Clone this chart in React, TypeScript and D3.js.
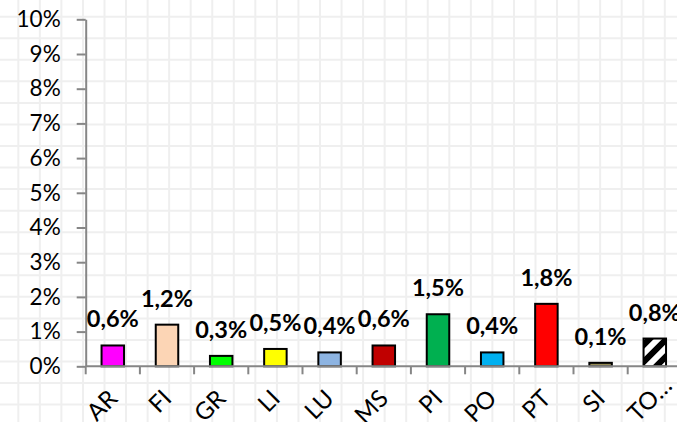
import React, { useEffect, useRef } from "react"
import * as d3 from "d3"

// Provinces (last one is truncated in the original chart)
const categories = ["AR", "FI", "GR", "LI", "LU", "MS", "PI", "PO", "PT", "SI", "TO…"]
const values = [0.006, 0.012, 0.003, 0.005, 0.004, 0.006, 0.015, 0.004, 0.018, 0.001, 0.008]
const barColors = [
  "#FF00FF", "#FCD5B5", "#00FF00", "#FFFF00", "#8DB4E2", "#C00000",
  "#00B050", "#00B0F0", "#FF0000", "#948A54", "url(#hatch)"
]
const yTicks = [0, 0.01, 0.02, 0.03, 0.04, 0.05, 0.06, 0.07, 0.08, 0.09, 0.1]

const W = 677
const H = 422
const FONT = "Lato, 'Open Sans', sans-serif"

const itLocale = d3.formatLocale({ decimal: ",", thousands: ".", grouping: [3], currency: ["", "€"] })
const fmtLabel = itLocale.format(".1%")
const fmtTick = itLocale.format(".0%")

const App = () => {
  const svgRef = useRef<SVGSVGElement>(null)

  useEffect(() => {
    if (!svgRef.current) return
    const svg = d3.select(svgRef.current)
    svg.selectAll("*").remove()

    const left = 85.7
    const step = 54.2
    const x = d3.scaleBand<string>()
      .domain(categories)
      .range([left, left + step * categories.length])
      .paddingInner(0.585)
      .paddingOuter(0.2925)
    const y = d3.scaleLinear().domain([0, 0.1]).range([366.3, 19.3])

    // hatch pattern for the last bar
    const defs = svg.append("defs")
    const pat = defs.append("pattern")
      .attr("id", "hatch")
      .attr("patternUnits", "userSpaceOnUse")
      .attr("width", 12)
      .attr("height", 12)
      .attr("patternTransform", "rotate(45)")
    pat.append("rect").attr("width", 12).attr("height", 12).attr("fill", "#fff")
    pat.append("rect").attr("width", 6).attr("height", 12).attr("fill", "#000")

    // spreadsheet cell grid behind the chart
    const grid = svg.append("g").attr("stroke", "#efefef").attr("stroke-width", 2)
    grid.selectAll("line.v")
      .data(d3.range(18.3, W, 21.55))
      .enter().append("line")
      .attr("x1", d => d).attr("x2", d => d)
      .attr("y1", 0).attr("y2", H)
    grid.selectAll("line.h")
      .data(d3.range(16.7, H, 21.55))
      .enter().append("line")
      .attr("y1", d => d).attr("y2", d => d)
      .attr("x1", 0).attr("x2", W)

    // bars
    svg.append("g")
      .selectAll("rect")
      .data(values)
      .enter().append("rect")
      .attr("x", (d, i) => x(categories[i])!)
      .attr("y", d => y(d))
      .attr("width", x.bandwidth())
      .attr("height", d => y(0) - y(d))
      .attr("fill", (d, i) => barColors[i])
      .attr("stroke", "#000")
      .attr("stroke-width", 2)

    // y axis
    const yAxis = svg.append("g")
      .attr("transform", `translate(${left},0)`)
      .call(d3.axisLeft(y).tickValues(yTicks).tickFormat(d => fmtTick(d as number)).tickSize(9).tickSizeOuter(0).tickPadding(16))
    yAxis.select(".domain").attr("stroke", "#868686").attr("stroke-width", 2)
    yAxis.selectAll(".tick line").attr("stroke", "#868686").attr("stroke-width", 2)
    yAxis.selectAll(".tick text")
      .attr("fill", "#000")
      .style("font-family", FONT)
      .style("font-size", "22.5px")

    // x axis: line and ticks at category boundaries
    const xg = svg.append("g")
    const xEnd = left + step * categories.length
    xg.append("line")
      .attr("x1", left).attr("x2", xEnd)
      .attr("y1", y(0)).attr("y2", y(0))
      .attr("stroke", "#868686").attr("stroke-width", 2)
    const gap = (x.step() - x.bandwidth()) / 2
    const bounds = categories.map(c => x(c)! - gap).concat([xEnd])
    xg.selectAll("line.tick")
      .data(bounds)
      .enter().append("line")
      .attr("x1", d => d).attr("x2", d => d)
      .attr("y1", y(0)).attr("y2", y(0) + 8)
      .attr("stroke", "#868686").attr("stroke-width", 2)

    // rotated category labels; a trailing ellipsis hangs past the anchor
    const cat = xg.selectAll("g.cat")
      .data(categories)
      .enter().append("g")
      .attr("transform", d => `translate(${x(d)! + x.bandwidth() / 2 + 6},400) rotate(-45)`)
    cat.append("text")
      .attr("text-anchor", "end")
      .style("font-family", FONT)
      .style("font-size", "24px")
      .attr("fill", "#000")
      .text(d => d.replace("…", ""))
    cat.filter(d => d.endsWith("…")).append("text")
      .attr("text-anchor", "start")
      .style("font-family", FONT)
      .style("font-size", "24px")
      .attr("fill", "#000")
      .text("…")

    // data labels
    svg.append("g")
      .selectAll("text")
      .data(values)
      .enter().append("text")
      .attr("x", (d, i) => x(categories[i])! + x.bandwidth() / 2)
      .attr("y", d => y(d) - 18)
      .attr("text-anchor", "middle")
      .style("font-family", FONT)
      .style("font-size", "23.5px")
      .style("font-weight", "bold")
      .attr("fill", "#000")
      .text(d => fmtLabel(d))
  }, [])

  return (
    <svg
      ref={svgRef}
      width={W}
      height={H}
      style={{ position: "absolute", left: 0, top: 0, background: "#fff" }}
    />
  )
}

export default App
